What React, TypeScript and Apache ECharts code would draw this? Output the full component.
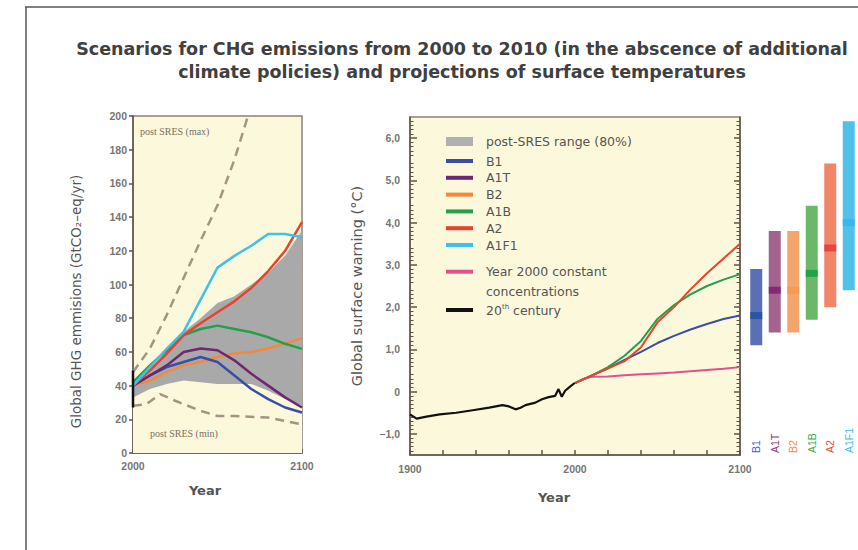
import React, { useEffect, useRef } from 'react';
import * as echarts from 'echarts';

// ---------- Title ----------
const titleLines = [
  'Scenarios for CHG emissions from 2000 to 2010 (in the abscence of additional',
  'climate policies) and projections of surface temperatures',
];

// ---------- Left panel: emissions (GtCO2-eq/yr) ----------
const emisYears = [2000, 2010, 2020, 2030, 2040, 2050, 2060, 2070, 2080, 2090, 2100];
const bandLow = [33, 38, 41, 43, 42, 41, 41, 41, 37, 32, 28];
const bandHigh = [40, 50, 60, 72, 80, 89, 93, 100, 107, 117, 132];
const emisB1 = [40, 46, 51, 54, 57, 54, 46, 38, 32, 27, 24];
const emisA1T = [40, 46, 52, 60, 62, 61, 55, 47, 40, 33, 27];
const emisB2 = [40, 43, 48, 52, 54, 57, 59, 60, 62, 65, 68];
const emisA1B = [42, 52, 61, 70, 73.6, 75.6, 73.6, 71.7, 68.7, 64.8, 61.8];
const emisA2 = [40, 49, 59, 70, 77, 83.5, 90, 98, 108, 120, 137];
const emisA1F1 = [40, 51, 62, 72, 91, 110, 117, 123, 130, 130, 128];
const maxYears = [2000, 2010, 2020, 2030, 2040, 2050, 2060, 2068];
const maxVals = [48, 62, 82, 104, 126, 147, 174, 200];
const minYears = [2000, 2008, 2016, 2025, 2040, 2050, 2060, 2080, 2100];
const minVals = [28, 29, 35, 31, 25, 22, 22, 21, 17];
const rangeAt2000Years = [2000, 2000];
const rangeAt2000Vals = [27, 49];

// ---------- Right panel: surface warming (°C) ----------
const histYears = [1900, 1904, 1910, 1918, 1928, 1938, 1948, 1956, 1960, 1964, 1967, 1970, 1976, 1980, 1984, 1988, 1990, 1992, 1994, 1997, 2000];
const histTemp = [-0.54, -0.64, -0.59, -0.54, -0.5, -0.44, -0.38, -0.32, -0.35, -0.42, -0.38, -0.32, -0.26, -0.18, -0.13, -0.1, 0.06, -0.12, 0.02, 0.12, 0.21];
const projYears = [2000, 2010, 2020, 2030, 2040, 2050, 2060, 2070, 2080, 2090, 2100];
const tempB1 = [0.2, 0.38, 0.55, 0.75, 0.94, 1.15, 1.32, 1.47, 1.6, 1.72, 1.8];
const tempA1B = [0.2, 0.38, 0.58, 0.85, 1.2, 1.72, 2.05, 2.3, 2.5, 2.65, 2.78];
const tempA2 = [0.2, 0.38, 0.55, 0.72, 1.05, 1.64, 2.0, 2.42, 2.8, 3.15, 3.5];
const constYears = [2000, 2005, 2010, 2020, 2030, 2040, 2050, 2060, 2070, 2080, 2090, 2100];
const constTemp = [0.2, 0.3, 0.35, 0.36, 0.39, 0.41, 0.43, 0.45, 0.48, 0.51, 0.54, 0.58];
const tempTicks = [-1, 0, 1, 2, 3, 4, 5, 6];

// ---------- Likely ranges at 2090-2099 ----------
const scenarios = ['B1', 'A1T', 'B2', 'A1B', 'A2', 'A1F1'];
const bestEst = [1.8, 2.4, 2.4, 2.8, 3.4, 4.0];
const rangeLow = [1.1, 1.4, 1.4, 1.7, 2.0, 2.4];
const rangeHigh = [2.9, 3.8, 3.8, 4.4, 5.4, 6.4];

// ---------- Styles ----------
const C = {
  B1: '#3a4ea6',
  A1T: '#6e2870',
  B2: '#f28a3a',
  A1B: '#23a049',
  A2: '#e8432c',
  A1F1: '#3fc2ea',
  pink: '#e2508c',
  black: '#111111',
  dash: '#a39484',
  band: '#a9a9a9',
};
const rangeColors = ['#5b6fb6', '#a2638f', '#f3a56b', '#6cb86b', '#f08667', '#4fc1ea'];
const midColors = ['#1e4f9e', '#7a1c6b', '#f39a4c', '#0f9d40', '#e8343a', '#35b3ea'];
const labelColors = ['#4a5fb0', '#8a3a7a', '#f08c3c', '#3aa84a', '#e84a3a', '#3cbce8'];
const BG = '#fcf8dc';
const AXIS = '#5e544a';
const BORDER = '#8d8076';
const TICKFONT = { fontFamily: 'Liberation Sans', fontWeight: 'bold' as const, fontSize: 10.5, color: '#767676' };
const NAMEFONT = { fontFamily: 'DejaVu Sans', fontSize: 13.5, color: '#555' };
const LINE_ICON = 'path://M0,0L27,0L27,4L0,4Z';

const pair = (xs: number[], ys: number[]) => xs.map((x, i) => [x, ys[i]]);

const fmtTemp = (v: number) => {
  if (!Number.isInteger(v)) return '';
  if (v === 0) return '0';
  return (v < 0 ? '\u2212' : '') + Math.abs(v).toFixed(1).replace('.', ',');
};

function leftLine(name: string, ys: number[], color: string) {
  return {
    name,
    type: 'line',
    xAxisIndex: 0,
    yAxisIndex: 0,
    data: pair(emisYears, ys),
    symbol: 'none',
    color,
    lineStyle: { color, width: 2.5 },
    z: 4,
  };
}

function rightLine(name: string, xs: number[], ys: number[], color: string, width = 2) {
  return {
    name,
    type: 'line',
    xAxisIndex: 1,
    yAxisIndex: 1,
    data: pair(xs, ys),
    symbol: 'none',
    color,
    lineStyle: { color, width },
    z: 4,
  };
}

const legendText = { fontFamily: 'DejaVu Sans', fontSize: 12.5, color: '#555', lineHeight: 13, padding: [0, 0, 0, 8] };
const legendCommon = {
  orient: 'vertical',
  left: 446,
  padding: 0,
  itemWidth: 27,
  itemHeight: 9,
  itemGap: 3.8,
  selectedMode: false,
  icon: LINE_ICON,
  textStyle: legendText,
};

const option = {
  animation: false,
  backgroundColor: '#ffffff',
  title: {
    text: titleLines.join('\n'),
    left: 457,
    top: 32,
    textAlign: 'center',
    textStyle: { fontFamily: 'DejaVu Sans', fontWeight: 'bold', fontSize: 17.5, lineHeight: 23, color: '#404040' },
  },
  graphic: [
    { type: 'line', shape: { x1: 25, y1: 7, x2: 858, y2: 7 }, style: { stroke: '#555', lineWidth: 1.5 } },
    { type: 'line', shape: { x1: 26, y1: 7, x2: 26, y2: 550 }, style: { stroke: '#555', lineWidth: 1.5 } },
    { type: 'text', left: 140, top: 126, z: 10, style: { text: 'post SRES (max)', font: '10px "Liberation Serif"', fill: '#7a7064' } },
    { type: 'text', left: 150, top: 428, z: 10, style: { text: 'post SRES (min)', font: '10px "Liberation Serif"', fill: '#7a7064' } },
  ],
  legend: [
    {
      ...legendCommon,
      top: 135,
      data: [{ name: 'post-SRES range (80%)', icon: 'rect', itemStyle: { color: '#b0b0b0' } }],
    },
    {
      ...legendCommon,
      top: 154.5,
      data: ['B1', 'A1T', 'B2', 'A1B', 'A2', 'A1F1'],
    },
    {
      ...legendCommon,
      top: 241.7,
      data: ['Year 2000 constant concentrations'],
      formatter: () => '\nYear 2000 constant\nconcentrations',
      textStyle: { ...legendText, lineHeight: 20 },
    },
    {
      ...legendCommon,
      top: 303.5,
      data: ['20th century'],
      formatter: '20{sup|th} century',
      textStyle: {
        ...legendText,
        rich: { sup: { fontFamily: 'DejaVu Sans', fontSize: 7, lineHeight: 8, verticalAlign: 'top', color: '#555' } },
      },
    },
  ],
  grid: [
    { left: 133, top: 116, width: 169, height: 337, show: true, backgroundColor: BG, borderColor: BORDER, borderWidth: 1.5 },
    { left: 410, top: 117, width: 330, height: 338, show: true, backgroundColor: BG, borderColor: BORDER, borderWidth: 1.5 },
    { left: 747, top: 117, width: 111, height: 338 },
  ],
  xAxis: [
    {
      type: 'value',
      gridIndex: 0,
      min: 2000,
      max: 2100,
      interval: 10,
      axisLine: { show: true, onZero: false, lineStyle: { color: AXIS, width: 1.5 } },
      axisTick: { show: true, inside: true, length: 4, lineStyle: { color: AXIS, width: 1.5 } },
      axisLabel: { ...TICKFONT, margin: 7, customValues: [2000, 2100], formatter: (v: number) => (v % 100 === 0 ? String(v) : '') },
      splitLine: { show: false },
      name: 'Year',
      nameLocation: 'middle',
      nameGap: 31,
      nameTextStyle: { ...NAMEFONT, fontSize: 13, fontWeight: 'bold', padding: [0, 25, 0, 0] },
    },
    {
      type: 'value',
      gridIndex: 1,
      min: 1900,
      max: 2100,
      interval: 20,
      axisLine: { show: true, onZero: false, lineStyle: { color: AXIS, width: 1.5 } },
      axisTick: { show: true, inside: true, length: 5, lineStyle: { color: AXIS, width: 1.5 } },
      axisLabel: { ...TICKFONT, margin: 8, customValues: [1900, 2000, 2100], formatter: (v: number) => (v % 100 === 0 ? String(v) : '') },
      splitLine: { show: false },
      name: 'Year',
      nameLocation: 'middle',
      nameGap: 36,
      nameTextStyle: { ...NAMEFONT, fontSize: 13, fontWeight: 'bold', padding: [0, 42, 0, 0] },
    },
    {
      type: 'category',
      gridIndex: 2,
      data: scenarios,
      axisLine: { show: false, onZero: false },
      axisTick: { show: false },
      axisLabel: {
        inside: true,
        rotate: 90,
        margin: 2,
        fontFamily: 'Liberation Sans',
        fontSize: 10.5,
        color: (_v: string, i: number) => labelColors[i],
      },
    },
  ],
  yAxis: [
    {
      type: 'value',
      gridIndex: 0,
      min: 0,
      max: 200,
      interval: 20,
      axisLine: { show: true, onZero: false, lineStyle: { color: AXIS, width: 1.5 } },
      axisTick: { show: true, inside: false, length: 4, lineStyle: { color: AXIS, width: 1.5 } },
      axisLabel: { ...TICKFONT, margin: 6 },
      splitLine: { show: false },
      name: 'Global GHG emmisions (GtCO\u2082\u2013eq/yr)',
      nameLocation: 'middle',
      nameGap: 50,
      nameTextStyle: { ...NAMEFONT, padding: [0, 34, 0, 0] },
    },
    {
      type: 'value',
      gridIndex: 1,
      min: -1.5,
      max: 6.5,
      interval: 0.5,
      axisLine: { show: true, onZero: false, lineStyle: { color: AXIS, width: 1.5 } },
      axisTick: { show: true, inside: true, length: 7, customValues: tempTicks, lineStyle: { color: AXIS, width: 1.5 } },
      minorTick: { show: true, splitNumber: 5, length: 3.5, lineStyle: { color: AXIS, width: 1 } },
      axisLabel: { ...TICKFONT, margin: 10, customValues: tempTicks, formatter: fmtTemp },
      splitLine: { show: false },
      minorSplitLine: { show: false },
      name: 'Global surface warning (\u00b0C)',
      nameLocation: 'middle',
      nameGap: 46,
      nameTextStyle: { ...NAMEFONT, fontSize: 14.5 },
    },
    {
      type: 'value',
      gridIndex: 1,
      position: 'right',
      min: -1.5,
      max: 6.5,
      interval: 0.5,
      axisLine: { show: true, onZero: false, lineStyle: { color: AXIS, width: 1.5 } },
      axisTick: { show: true, inside: true, length: 6, customValues: tempTicks, lineStyle: { color: AXIS, width: 1.5 } },
      minorTick: { show: true, splitNumber: 5, length: 3.5, lineStyle: { color: AXIS, width: 1 } },
      axisLabel: { show: false },
      splitLine: { show: false },
    },
    { type: 'value', gridIndex: 2, min: -1.5, max: 6.5, show: false },
  ],
  series: [
    // left: post-SRES 80% band (upper edge filled grey, lower edge filled with the plot colour)
    {
      name: 'post-SRES range (80%)',
      type: 'line',
      xAxisIndex: 0,
      yAxisIndex: 0,
      data: pair(emisYears, bandHigh),
      symbol: 'none',
      color: C.band,
      lineStyle: { width: 0, opacity: 0 },
      areaStyle: { color: C.band, opacity: 1 },
      silent: true,
      z: 2,
    },
    {
      name: 'bandLow',
      type: 'line',
      xAxisIndex: 0,
      yAxisIndex: 0,
      data: pair(emisYears, bandLow),
      symbol: 'none',
      color: BG,
      lineStyle: { width: 0, opacity: 0 },
      areaStyle: { color: BG, opacity: 1 },
      silent: true,
      z: 2,
    },
    {
      name: 'post SRES (max)',
      type: 'line',
      xAxisIndex: 0,
      yAxisIndex: 0,
      data: pair(maxYears, maxVals),
      symbol: 'none',
      lineStyle: { color: C.dash, width: 2.5, type: [9, 6] },
      z: 3,
    },
    {
      name: 'post SRES (min)',
      type: 'line',
      xAxisIndex: 0,
      yAxisIndex: 0,
      data: pair(minYears, minVals),
      symbol: 'none',
      lineStyle: { color: C.dash, width: 2.5, type: [9, 6] },
      z: 3,
    },
    leftLine('B2', emisB2, C.B2),
    leftLine('B1', emisB1, C.B1),
    leftLine('A1T', emisA1T, C.A1T),
    leftLine('A1B', emisA1B, C.A1B),
    leftLine('A2', emisA2, C.A2),
    leftLine('A1F1', emisA1F1, C.A1F1),
    {
      name: 'range 2000',
      type: 'line',
      xAxisIndex: 0,
      yAxisIndex: 0,
      data: pair(rangeAt2000Years, rangeAt2000Vals),
      symbol: 'none',
      lineStyle: { color: C.black, width: 2.5 },
      z: 5,
    },
    // right: temperature
    rightLine('20th century', histYears, histTemp, C.black, 2.2),
    rightLine('Year 2000 constant concentrations', constYears, constTemp, C.pink),
    rightLine('B1', projYears, tempB1, C.B1),
    rightLine('A1B', projYears, tempA1B, C.A1B),
    rightLine('A2', projYears, tempA2, C.A2),
    // likely ranges
    {
      type: 'bar',
      xAxisIndex: 2,
      yAxisIndex: 3,
      stack: 'range',
      barWidth: 12,
      silent: true,
      data: rangeLow,
      itemStyle: { color: 'rgba(0,0,0,0)' },
    },
    {
      type: 'bar',
      xAxisIndex: 2,
      yAxisIndex: 3,
      stack: 'range',
      barWidth: 12,
      data: rangeHigh.map((h, i) => ({ value: +(h - rangeLow[i]).toFixed(2), itemStyle: { color: rangeColors[i] } })),
    },
    {
      type: 'scatter',
      xAxisIndex: 2,
      yAxisIndex: 3,
      symbol: 'rect',
      symbolSize: [12, 7],
      data: bestEst.map((v, i) => ({ value: v, itemStyle: { color: midColors[i] } })),
      z: 5,
    },
  ],
};

export default function App() {
  const ref = useRef<HTMLDivElement>(null);
  useEffect(() => {
    const chart = echarts.init(ref.current!, null, { renderer: 'svg' });
    chart.setOption(option as any);
    return () => chart.dispose();
  }, []);
  return <div ref={ref} style={{ position: 'absolute', left: 0, top: 0, width: 858, height: 550 }} />;
}
